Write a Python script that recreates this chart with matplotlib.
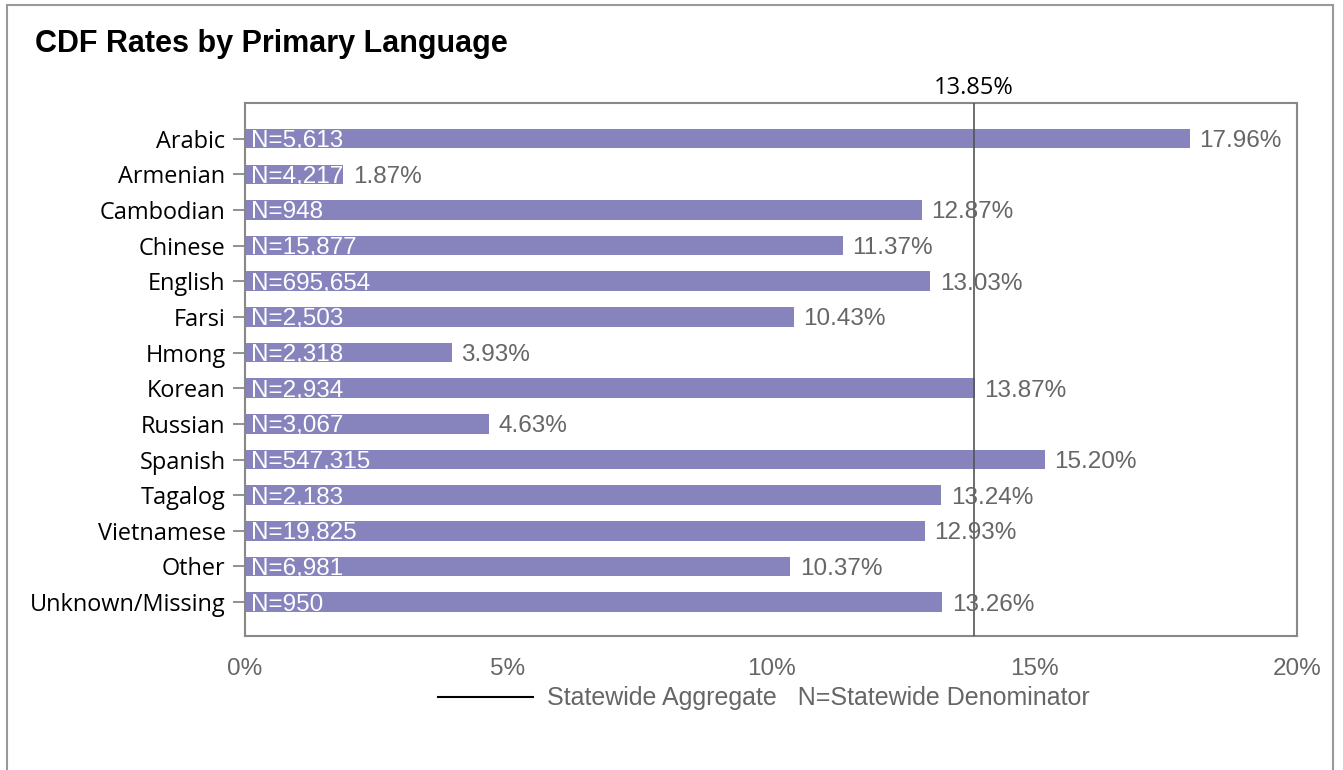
import matplotlib
matplotlib.use("Agg")
import matplotlib.pyplot as plt
from matplotlib.lines import Line2D
from matplotlib.patches import Rectangle

languages = ["Arabic", "Armenian", "Cambodian", "Chinese", "English", "Farsi", "Hmong",
             "Korean", "Russian", "Spanish", "Tagalog", "Vietnamese", "Other", "Unknown/Missing"]
rates = [17.96, 1.87, 12.87, 11.37, 13.03, 10.43, 3.93, 13.87, 4.63, 15.20, 13.24, 12.93, 10.37, 13.26]
denominators = ["5,613", "4,217", "948", "15,877", "695,654", "2,503", "2,318", "2,934",
                "3,067", "547,315", "2,183", "19,825", "6,981", "950"]
statewide = 13.85
xticks = [0, 5, 10, 15, 20]

W, H = 1343, 770
fig = plt.figure(figsize=(W / 100, H / 100), dpi=100)
ax = fig.add_axes([245 / W, 1 - 636 / H, (1297 - 245) / W, (636 - 103) / H])

bar_color = "#8783bd"
ypos = list(range(len(languages)))
ax.barh(ypos, rates, height=0.55, color=bar_color, zorder=2)
ax.set_ylim(len(languages) - 0.05, -1.0)
ax.set_xlim(0, 20)

for y, r, n in zip(ypos, rates, denominators):
    ax.text(r + 0.18, y, f"{r:.2f}%", va="center_baseline", ha="left", color="#666666",
            fontsize=17.5, family="Liberation Sans", zorder=4)
    ax.text(0.12, y, f"N={n}", va="center_baseline", ha="left", color="white",
            fontsize=17.5, family="Liberation Sans", zorder=4)

ax.axvline(statewide, color="#555555", lw=1.2, zorder=3)
ax.text(statewide, -1.08, f"{statewide:.2f}%", ha="center", va="bottom",
        fontsize=17, family="Open Sans", color="black")

ax.set_yticks(ypos)
ax.set_yticklabels(languages, fontsize=16.9, family="Open Sans", color="black")
ax.tick_params(axis="y", length=9, color="#888888", width=1.3, pad=5)
ax.set_xticks(xticks)
ax.set_xticklabels([f"{t}%" for t in xticks], fontsize=17.5, family="Liberation Sans", color="#666666")
ax.tick_params(axis="x", length=0, pad=16)
for s in ax.spines.values():
    s.set_color("#888888")
    s.set_linewidth(1.5)

fig.text(35 / W, 1 - 44 / H, "CDF Rates by Primary Language", fontsize=22, fontweight="bold",
         family="Liberation Sans", va="center", ha="left", color="black")

# legend
fig.add_artist(Line2D([438 / W, 533 / W], [1 - 697 / H, 1 - 697 / H], color="black", lw=1.5))
fig.text(547 / W, 1 - 698 / H, "Statewide Aggregate   N=Statewide Denominator", fontsize=18,
         family="Liberation Sans", color="#666666", va="center", ha="left")

# figure border
fig.add_artist(Rectangle((7 / W, -0.1), (1333 - 7) / W, 1.1 - 5 / H, transform=fig.transFigure,
                         fill=False, edgecolor="#999999", lw=1.5, clip_on=False))

fig.savefig("out.png", dpi=100)
